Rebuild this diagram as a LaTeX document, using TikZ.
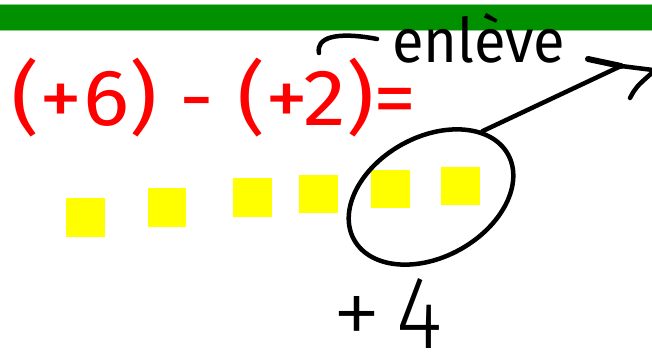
\documentclass[tikz,border=0pt]{standalone}
\usepackage{graphicx}
\usepackage{fontspec}
\setmainfont{Fira Sans}
\newfontfamily\thinfont{Fira Sans}[UprightFont={* Light}]
\usetikzlibrary{shapes.geometric}
\definecolor{barg}{RGB}{0,144,0}
\definecolor{sqy}{RGB}{255,255,0}
\tikzset{
  sq/.style={fill=sqy, draw=none, minimum size=38.5pt, inner sep=0pt},
  ink/.style={line width=4.5pt, line cap=round, line join=round, draw=black},
  txt/.style={inner sep=0pt, outer sep=0pt, anchor=north west}
}
\begin{document}
\begin{tikzpicture}[x=1pt,y=-1pt]
\useasboundingbox (0,0) rectangle (652,355);
\fill[white] (0,0) rectangle (652,355);
% green bar
\fill[barg!45] (0,4) rectangle (652,31);
\fill[barg] (0,5) rectangle (652,30);
% red equation
\node[txt, text=red] (eq) at (12,58) {\resizebox*{405pt}{79pt}{(+6) - (+2)=}};
% squares
\node[sq] (s1) at (85.5,217.5) {};
\node[sq] (s2) at (167,207.5) {};
\node[sq] (s3) at (252.5,197.5) {};
\node[sq] (s4) at (318.5,194) {};
\node[sq] (s5) at (390.5,189) {};
\node[sq] (s6) at (460.5,186) {};
% ellipse
\node[ellipse, draw, line width=4.5pt, rotate=29, minimum width=176pt, minimum height=120pt, inner sep=0pt] (ell) at (431,197) {};
% enleve
\node[txt] (en) at (392,13) {\resizebox*{173pt}{50pt}{enlève}};
% tilde stroke
\coordinate (t1) at (319,53);
\coordinate (t2) at (377,39);
\draw[ink] (t1) .. controls (316,38) and (335,31) .. (t2);
% arrow
\coordinate (tip) at (621,66);
\coordinate (h1) at (588,59);
\coordinate (h2) at (653,70);
\coordinate (l1) at (630,98);
\coordinate (l2) at (653,72);
\draw[ink] (ell.23) -- (tip);
\draw[ink, line width=6pt] (h1) -- (tip);
\draw[ink] (tip) -- (h2);
\draw[ink] (l1) .. controls (636,87) .. (l2);
% +4
\node[txt] (plus) at (332,296) {\thinfont\resizebox*{49pt}{50pt}{+}};
\node[txt] (four) at (396,278) {\thinfont\resizebox*{46pt}{70pt}{4}};
\end{tikzpicture}
\end{document}
